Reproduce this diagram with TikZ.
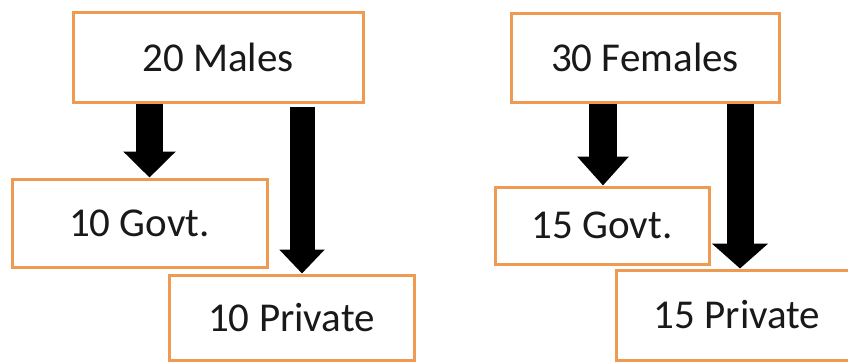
\documentclass[tikz,border=0pt]{standalone}
\usepackage{fontspec}
\setmainfont{Carlito}
\usetikzlibrary{arrows.meta}
\definecolor{boxorange}{RGB}{239,154,83}
\tikzset{
  countbox/.style={draw=boxorange, line width=3pt, fill=white, inner sep=0pt,
    font=\fontsize{41}{41}\selectfont, text=black!90},
  blockarrow/.style={line width=#1, line cap=butt, draw=black},
}
\begin{document}
\begin{tikzpicture}[x=1pt,y=-1pt]
  \clip (0,0) rectangle (848,362);
  \fill[white] (0,0) rectangle (848,362);

  % men
  \node[countbox, minimum width=290pt, minimum height=90pt] (males) at (218,57) {20 Males};
  \node[countbox, minimum width=255pt, minimum height=88pt] (mgov) at (139.5,223) {10 Govt.};
  \node[countbox, minimum width=245pt, minimum height=85pt] (mpriv) at (291.5,317.5) {10 Private};

  % women
  \node[countbox, minimum width=268pt, minimum height=89pt] (females) at (645,57.5) {30 Females};
  \node[countbox, minimum width=214pt, minimum height=77pt] (fgov) at (602,225.5) {15 Govt.};
  \node[countbox, minimum width=242pt, minimum height=90pt] (fpriv) at (737,315) {15 Private};

  % block arrows from totals to sectors
  \draw[blockarrow=27pt, -{Triangle[width=51pt,length=26pt]}]
    (males.south -| 149.5,0) -- (mgov.north -| 149.5,0);
  \draw[blockarrow=25pt, -{Triangle[width=44pt,length=24pt]}]
    ([yshift=-3pt]males.south -| 302,0) -- (mpriv.north -| 302,0);
  \draw[blockarrow=28pt, -{Triangle[width=50pt,length=29pt]}]
    (females.south -| 603,0) -- (fgov.north -| 603,0);
  \draw[blockarrow=27pt, -{Triangle[width=55pt,length=25pt]}]
    (females.south -| 740,0) -- (fpriv.north -| 740,0);
\end{tikzpicture}
\end{document}
